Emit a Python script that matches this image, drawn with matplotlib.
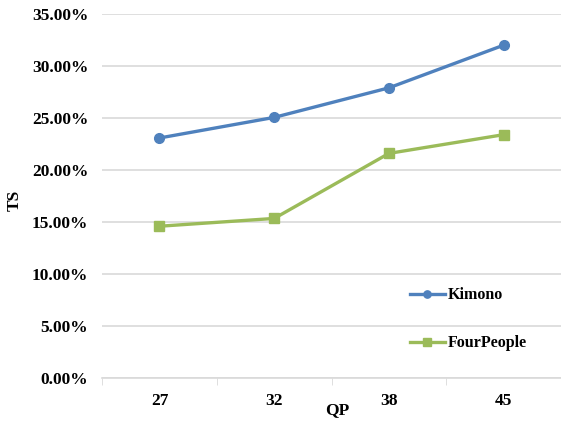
import matplotlib
matplotlib.use("Agg")
import matplotlib.pyplot as plt
from matplotlib.ticker import FuncFormatter, FixedLocator

qp = ["27", "32", "38", "45"]
kimono = [0.2308, 0.2506, 0.2790, 0.3200]
fourpeople = [0.1460, 0.1535, 0.2160, 0.2340]

plt.rcParams["font.family"] = ["Liberation Serif", "DejaVu Serif"]
plt.rcParams["font.weight"] = "bold"

fig = plt.figure(figsize=(5.61, 4.23), dpi=100)
ax = fig.add_axes([0.182, 0.106, 0.818, 0.861])

x = range(len(qp))
ax.plot(x, kimono, color="#4F81BD", lw=2.4, marker="o", ms=7, label="Kimono")
ax.plot(x, fourpeople, color="#9BBB59", lw=2.4, marker="s", ms=7, label="FourPeople")

ax.set_xlim(-0.5, len(qp) - 0.5)
ax.set_ylim(0, 0.35)
ax.set_yticks([i * 0.05 for i in range(8)])
ax.yaxis.set_major_formatter(FuncFormatter(lambda v, _: f"{v * 100:.2f}%"))
ax.set_xticks(list(x))
ax.set_xticklabels(qp)
ax.xaxis.set_minor_locator(FixedLocator([i - 0.5 for i in range(len(qp) + 1)]))

ax.tick_params(axis="y", length=0, pad=10, labelsize=12.5)
ax.tick_params(axis="x", which="major", length=0, pad=11, labelsize=12.5)
ax.tick_params(axis="x", which="minor", length=5, color="#D9D9D9", direction="out")

ax.grid(axis="y", color="#D9D9D9", lw=1.2)
ax.set_axisbelow(True)
for s in ["top", "right", "left"]:
    ax.spines[s].set_visible(False)
ax.spines["bottom"].set_color("#D9D9D9")
ax.spines["bottom"].set_linewidth(1.2)

fig.text(0.027, 0.527, "TS", rotation=90, ha="center", va="center", fontsize=12.5, fontweight="bold")
fig.text(0.601, 0.031, "QP", ha="center", va="center", fontsize=12.5, fontweight="bold")

ax.legend(loc="upper left", bbox_to_anchor=(0.705, 0.355), bbox_transform=fig.transFigure,
          frameon=False, fontsize=11.5, handlelength=2.2, handletextpad=0.15,
          labelspacing=2.0, markerscale=0.75)

fig.savefig("out.png", dpi=100)
